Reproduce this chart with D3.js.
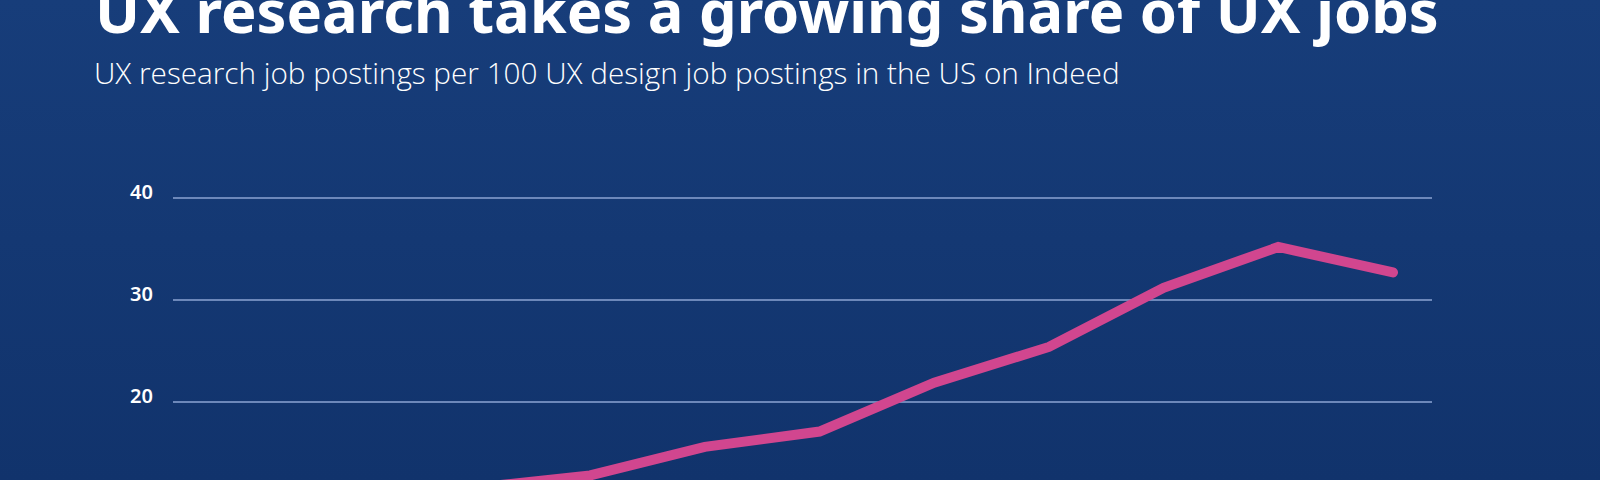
<!DOCTYPE html>
<html>
<head>
<meta charset="utf-8">
<script src="https://cdn.jsdelivr.net/npm/d3@7"></script>
<style>
  html, body { margin: 0; padding: 0; background: #143874; }
  svg { display: block; }
</style>
</head>
<body>
<div id="chart"></div>
<script>
// data (first three years sit below the visible crop)
const years = [2012, 2013, 2014, 2015, 2016, 2017, 2018, 2019, 2020, 2021, 2022]
const ratio = [8.0, 9.5, 11.6, 12.8, 15.6, 17.1, 21.9, 25.4, 31.2, 35.2, 32.7]
const yTicks = [20, 30, 40]

const titleText = "UX research takes a growing share of UX jobs"
const subtitleText = "UX research job postings per 100 UX design job postings in the US on Indeed"

const W = 1600, H = 480

const svg = d3.select("#chart")
    .append("svg")
    .attr("width", W)
    .attr("height", H)

// background gradient
const defs = svg.append("defs")
const grad = defs.append("linearGradient")
    .attr("id", "bg")
    .attr("x1", 0).attr("y1", 0)
    .attr("x2", 0).attr("y2", 1)
grad.append("stop").attr("offset", "0%").attr("stop-color", "#173d7a")
grad.append("stop").attr("offset", "100%").attr("stop-color", "#11336c")

svg.append("rect")
    .attr("width", W)
    .attr("height", H)
    .attr("fill", "url(#bg)")

// scales
const x = d3.scalePoint()
    .domain(years)
    .range([246, 1393])

const y = d3.scaleLinear()
    .domain([0, 40])
    .range([606, 198])

// gridlines + labels
const grid = svg.append("g")
grid.selectAll("line")
    .data(yTicks)
    .join("line")
    .attr("x1", 173)
    .attr("x2", 1432)
    .attr("y1", d => y(d))
    .attr("y2", d => y(d))
    .attr("stroke", "#6d88ba")
    .attr("stroke-width", 2)

grid.selectAll("text")
    .data(yTicks)
    .join("text")
    .attr("x", 153)
    .attr("y", d => y(d) + 1)
    .attr("text-anchor", "end")
    .attr("fill", "#ffffff")
    .style("font-family", "'Noto Sans', 'Open Sans', sans-serif")
    .style("font-weight", 600)
    .style("font-size", "20px")
    .text(d => d)

// the line
const line = d3.line()
    .x((d, i) => x(years[i]))
    .y(d => y(d))

svg.append("path")
    .datum(ratio)
    .attr("d", line)
    .attr("fill", "none")
    .attr("stroke", "#d1468f")
    .attr("stroke-width", 10)
    .attr("stroke-linecap", "round")
    .attr("stroke-linejoin", "miter")

// titles, sized so they span the same width as in the reference
function fitText(sel, target) {
    let fs = parseFloat(sel.style("font-size"))
    const w = sel.node().getComputedTextLength()
    sel.style("font-size", (fs * target / w) + "px")
}

const title = svg.append("text")
    .attr("x", 95)
    .attr("y", 33)
    .attr("fill", "#ffffff")
    .style("font-family", "'Noto Sans', 'Open Sans', sans-serif")
    .style("font-weight", 700)
    .style("font-size", "50px")
    .text(titleText)
fitText(title, 1344)

const subtitle = svg.append("text")
    .attr("x", 94)
    .attr("y", 84)
    .attr("fill", "#ffffff")
    .style("font-family", "'Open Sans', 'Noto Sans', sans-serif")
    .style("font-weight", 300)
    .style("font-size", "25px")
    .text(subtitleText)
fitText(subtitle, 1026)
</script>
</body>
</html>
